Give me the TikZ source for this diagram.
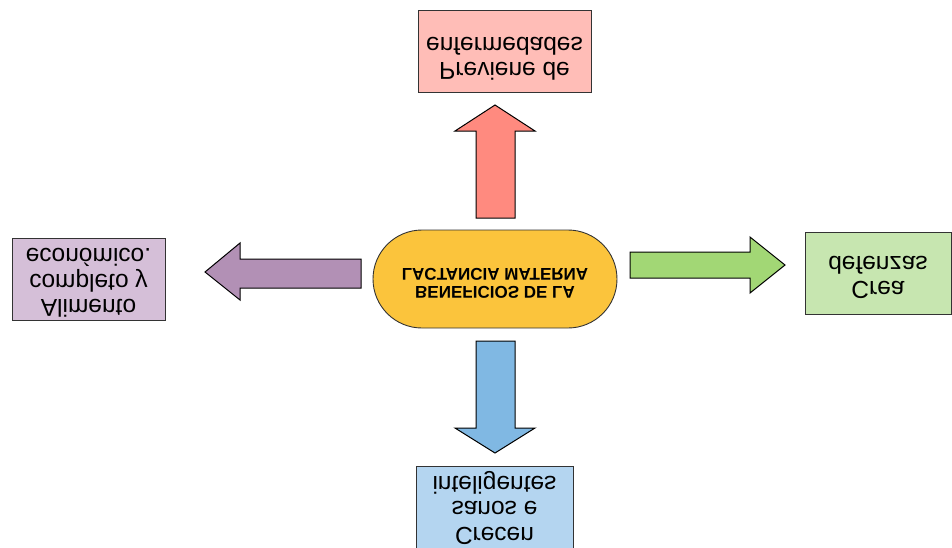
\documentclass[tikz,border=0pt]{standalone}
\usepackage{fontspec}
\setmainfont{Liberation Sans}
\usepackage{graphicx}
% text set upside down (mirrored top to bottom)
\newcommand{\upsidedown}[1]{\scalebox{1}[-1]{\begin{tabular}{@{}c@{}}#1\end{tabular}}}
\definecolor{hubfill}{HTML}{FBC43C}
\definecolor{pinkbox}{HTML}{FFBDB7}
\definecolor{pinkarrow}{HTML}{FF8A7F}
\definecolor{lilacbox}{HTML}{D5BFD8}
\definecolor{lilacarrow}{HTML}{B290B5}
\definecolor{greenbox}{HTML}{C7E6B0}
\definecolor{greenarrow}{HTML}{A2D775}
\definecolor{bluebox}{HTML}{B4D5F0}
\definecolor{bluearrow}{HTML}{80B8E3}
\definecolor{edge}{HTML}{333333}
\tikzset{
  x=1pt, y=-1pt,
  box/.style={draw=edge, line width=0.8pt, inner sep=0pt, minimum height=82pt},
  boxtext/.style={font=\fontsize{24.5}{25.5}\selectfont},
  blockarrow/.style={draw=black, line width=1pt, line join=miter},
}
\begin{document}
\begin{tikzpicture}
\useasboundingbox (0,0) rectangle (952,547);

% central stadium
\draw[draw=edge, line width=0.9pt, fill=hubfill, rounded corners=49pt]
  (373,230) rectangle (617,328);
\node[font=\fontsize{17}{18}\selectfont\bfseries] (hub) at (495,281)
  {\upsidedown{BENEFICIOS DE LA\\LACTANCIA MATERNA}};

% outer boxes
\node[box, fill=pinkbox, minimum width=173pt] (prev) at (504.5,51) {};
\node[boxtext] (prevtext) at (504.5,55) {\upsidedown{Previene de\\enfermedades}};
\node[box, fill=lilacbox, minimum width=153pt] (alim) at (88.5,279) {};
\node[boxtext] (alimtext) at (88.5,279) {\upsidedown{Alimento\\completo y\\económico.}};
\node[box, fill=greenbox, minimum width=146pt] (crea) at (878,273) {};
\node[boxtext] (creatext) at (878,274) {\upsidedown{Crea\\defenzas}};
\node[box, fill=bluebox, minimum width=157pt, minimum height=94pt] (crec) at (494.5,513) {};
\node[boxtext] (crectext) at (494.5,507) {\upsidedown{Crecen\\sanos e\\inteligentes}};

% block arrows
\draw[blockarrow, fill=pinkarrow]
  (476,218) -- (476,131) -- (455,131) -- (495,105) -- (535,131) -- (515,131) -- (515,218) -- cycle;
\draw[blockarrow, fill=bluearrow]
  (476,341) -- (476,428) -- (455,428) -- (495,453) -- (535,428) -- (515,428) -- (515,341) -- cycle;
\draw[blockarrow, fill=lilacarrow]
  (361,259) -- (240,259) -- (240,243) -- (205,272) -- (240,300) -- (240,288) -- (361,288) -- cycle;
\draw[blockarrow, fill=greenarrow]
  (630,252) -- (750,252) -- (750,237) -- (785,265) -- (750,293) -- (750,278) -- (630,278) -- cycle;
\end{tikzpicture}
\end{document}
